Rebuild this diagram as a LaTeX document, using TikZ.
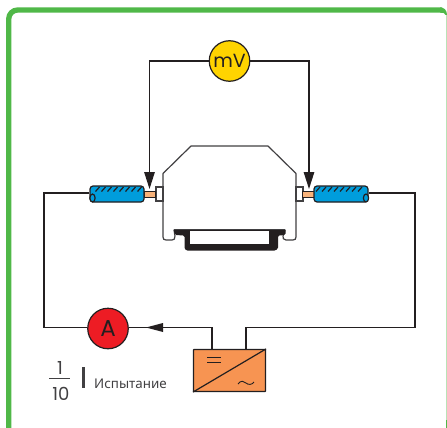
\documentclass[tikz,border=0pt]{standalone}
\usepackage{fontspec}
\setmainfont{Poppins}
\newfontfamily\rufont{Noto Sans}
\usetikzlibrary{arrows.meta}
\definecolor{frameg}{RGB}{80,184,72}
\definecolor{ink}{RGB}{35,31,32}
\definecolor{txt}{RGB}{65,64,66}
\definecolor{wireblue}{RGB}{0,157,220}
\definecolor{tip}{RGB}{247,178,122}
\definecolor{conv}{RGB}{247,148,82}
\definecolor{amp}{RGB}{237,28,36}
\definecolor{volt}{RGB}{255,212,0}
\tikzset{
  px/.style={x=1pt,y=-1pt},
  wire/.style={draw=ink,line width=1.3pt},
  meter/.style={circle,draw=ink,line width=1.2pt,minimum size=40.5pt,inner sep=0pt,text=ink,font=\fontsize{19}{19}\selectfont},
  housing/.style={draw=txt,line width=1.2pt,fill=white,line join=round},
  tipa/.style={-{Triangle[length=17pt,width=10.5pt,fill=ink]},draw=ink,line width=1.3pt},
  cable/.style={draw=ink,line width=1.2pt,fill=wireblue,rounded corners=3pt},
  hatch/.style={draw=ink,line width=1.2pt},
  stub/.style={draw=ink,line width=0.7pt,fill=tip},
  clamp/.style={draw=txt,line width=1.1pt,fill=white}
}
\begin{document}
\begin{tikzpicture}[px]
\useasboundingbox (0,0) rectangle (447,428);
\draw[frameg,line width=5.3pt,rounded corners=9pt] (8.7,440) -- (8.7,10) -- (442,10);
\fill[frameg] (440,7.4) .. controls (444,7.4) and (447,10) .. (447,15) -- (445.5,15) .. controls (445.5,13) and (443,12.6) .. (440,12.6) -- cycle;
\draw[frameg!40,line width=1pt] (446.5,15) -- (446.5,420);
\fill[frameg] (445.5,420) rectangle (447,428);

\node[meter,fill=volt] (mv) at (229.5,61) {mV};
\node[meter,fill=amp,font=\fontsize{23}{23}\selectfont] (am) at (108,328.5) {A};
\node[draw=ink,line width=1.3pt,fill=conv,minimum width=72pt,minimum height=42pt,inner sep=0pt,rounded corners=0.5pt] (conv) at (229.5,370.5) {};
\draw[ink,line width=1.2pt] (conv.south west) -- (conv.north east);
\draw[ink,line width=0.9pt] (207,357) -- (221,357) (207,362) -- (221,362);
\draw[ink,line width=0.9pt] (238,384) .. controls (241,380) and (244,381) .. (246,383) .. controls (248,385) and (252,385) .. (254,382);

% housing
\draw[housing] (163,173.5) -- (191,146) -- (268,146) -- (296,173.5) -- (296,237)
  .. controls (296,239) and (295,240) .. (293,240) -- (286,240)
  .. controls (283,240) and (283,238) .. (283,236) -- (285,230) -- (174,230) -- (175,236)
  .. controls (175,239) and (174,240) .. (172,240) -- (166,240)
  .. controls (164,240) and (163,239) .. (163,237) -- cycle;
\fill[ink,rounded corners=1.5pt] (173.5,229) -- (285.5,229) -- (285.5,235) -- (278,235.5) -- (278,246)
  .. controls (278,249) and (276,250.5) .. (273,250.5) -- (189,250.5)
  .. controls (186,250.5) and (184.5,249) .. (184.5,246) -- (184.5,235.5) -- (175,235) -- cycle;
\fill[white] (190,231) rectangle (269,244);
\draw[txt,line width=1.2pt] (174,229.5) -- (285,229.5);

% left side
\node[clamp,minimum width=7pt,minimum height=14pt,inner sep=0pt] (cl) at (159.5,194) {};
\node[stub,minimum width=11.5pt,minimum height=6.5pt,inner sep=0pt] (sl) at (150,194.5) {};
\node[cable,minimum width=54pt,minimum height=16pt,inner sep=0pt] (wl) at (117,194) {};
\foreach \i in {0,...,7}{\draw[hatch] ({95.5+\i*6},191.5) -- ({99.5+\i*6},187);}
\draw[ink,line width=1.2pt,fill=wireblue] (92.5,198) ellipse (2.6pt and 4pt);
% right side
\node[clamp,minimum width=7pt,minimum height=14pt,inner sep=0pt] (cr) at (299.5,194) {};
\node[stub,minimum width=11.5pt,minimum height=6.5pt,inner sep=0pt] (sr) at (308.5,194.5) {};
\node[cable,minimum width=54pt,minimum height=16pt,inner sep=0pt] (wr) at (341,194) {};
\foreach \i in {0,...,7}{\draw[hatch] ({316+\i*6},191.5) -- ({320+\i*6},187);}
\draw[ink,line width=1.2pt,fill=wireblue] (366,198) ellipse (2.6pt and 4pt);

% wires
\coordinate (tl) at (149.5,61); \coordinate (tr) at (309,61);
\coordinate (al) at (149.5,189); \coordinate (ar) at (309,189);
\draw[tipa] (mv.west) -- (tl) -- (al);
\draw[tipa] (mv.east) -- (tr) -- (ar);
\coordinate (b1) at (44,193); \coordinate (b2) at (44,327.5);
\coordinate (wle) at (wl.west|-b1);
\coordinate (wre) at (wr.east|-b1);
\draw[wire] (wle) -- (b1) -- (b2) -- (b2-|am.west);
\coordinate (b3) at (415,193); \coordinate (b4) at (415,327.5); \coordinate (c2) at (246,327.5);
\draw[wire] (wre) -- (b3) -- (b4) -- (c2) -- (c2|-conv.north);
\coordinate (c1) at (212,327.5);
\draw[wire] (c1|-conv.north) -- (c1) -- (c1-|am.east);
\fill[ink] (146,327.5) -- (163,323) -- (163,332) -- cycle;

% legend
\node[text=txt,font=\fontsize{18}{18}\selectfont,inner sep=0pt] (n) at (60,368) {1};
\node[text=txt,font=\fontsize{18}{18}\selectfont,inner sep=0pt] (d) at (61,393.5) {10};
\draw[txt,line width=1pt] (49,378) -- (69.5,378);
\draw[txt,line width=3pt] (83.5,367) -- (83.5,388);
\node[text=txt,font=\rufont\fontsize{13.4}{14}\selectfont,inner sep=0pt,anchor=west] (t) at (94,384) {Испытание};
\end{tikzpicture}
\end{document}
